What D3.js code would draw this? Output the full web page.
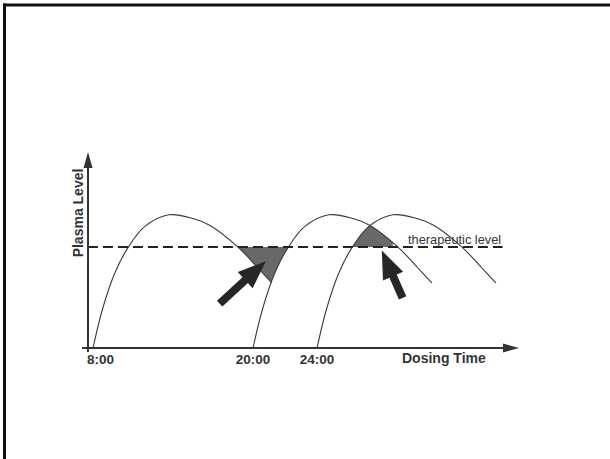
<!DOCTYPE html>
<html>
<head>
<meta charset="utf-8">
<script src="https://cdn.jsdelivr.net/npm/d3@7"></script>
<style>
  html, body { margin: 0; padding: 0; background: #fff; }
  svg { display: block; }
</style>
</head>
<body>
<div id="chart"></div>
<script>
// Dosing schedule vs plasma level (schematic)
var doseTimes = [8, 20, 24];
var doseLabels = ['8:00', '20:00', '24:00'];

// one dose profile: hours after the dose -> plasma level
var profileHours = [0, 0.75, 1.65, 2.63, 3.9, 5.7, 7.45, 8.8, 10.9, 12.2, 13.45];
var profileLevels = [0, 21, 39, 52, 63, 69, 67.2, 63.5, 52.3, 43, 33.7];

var therapeuticLevel = 52.3;
var therapeuticSpan = [7.62, 35.6];

// annotation arrows [time, level]
var arrowTails = [[17.5, 23], [29.35, 26]];
var arrowTips = [[20.8, 45], [28.05, 50.5]];

(function() {
  'use strict';

  var width = 610, height = 459;
  var originX = 88, originY = 348;

  var svg = d3.select('#chart').append('svg').attr('width', width).attr('height', height);

  var xTime = d3.scaleLinear().domain([8, 20, 24]).range([93, 253, 317]);
  var xDur = d3.scaleLinear().domain([0, 1]).range([0, 13.3]);
  var y = d3.scaleLinear().domain([0, 100]).range([originY, 155]);

  // frame (top + left)
  svg.append('line').attr('x1', 3).attr('x2', width).attr('y1', 5).attr('y2', 5)
    .attr('stroke', '#111').attr('stroke-width', 3);
  svg.append('line').attr('x1', 4.5).attr('x2', 4.5).attr('y1', 3.5).attr('y2', height)
    .attr('stroke', '#111').attr('stroke-width', 3);

  var line = d3.line()
    .x(function(d) { return d[0]; }).y(function(d) { return d[1]; })
    .curve(d3.curveCatmullRom.alpha(0.5));

  var curves = doseTimes.map(function(t) {
    return profileHours.map(function(h, i) {
      return [xTime(t) + xDur(h), y(profileLevels[i])];
    });
  });

  var paths = svg.selectAll('.dose').data(curves).enter().append('path')
    .attr('class', 'dose')
    .attr('d', line)
    .attr('fill', 'none').attr('stroke', '#3a3a3a').attr('stroke-width', 1.1);

  // sample each drawn curve so we can read y at any x
  function sampler(node) {
    var L = node.getTotalLength(), pts = [];
    for (var s = 0; s <= L; s += 0.5) pts.push(node.getPointAtLength(s));
    pts.push(node.getPointAtLength(L));
    return function(x) {
      if (x < pts[0].x || x > pts[pts.length - 1].x) return null;
      for (var i = 1; i < pts.length; i++) {
        if (pts[i].x >= x) {
          var a = pts[i - 1], b = pts[i];
          var k = b.x === a.x ? 0 : (x - a.x) / (b.x - a.x);
          return a.y + k * (b.y - a.y);
        }
      }
      return null;
    };
  }
  var samp = paths.nodes().map(sampler);
  var thrY = y(therapeuticLevel);
  var peakH = profileHours[profileLevels.indexOf(d3.max(profileLevels))];

  // gap below therapeutic level between dose 1 and dose 2
  var gap = [];
  for (var x = xTime(doseTimes[0]) + xDur(peakH); x <= xTime(doseTimes[1]) + xDur(peakH); x += 0.5) {
    var a = samp[0](x), b = samp[1](x);
    var bottom = Math.min(a == null ? Infinity : a, b == null ? Infinity : b);
    if (bottom > thrY && bottom !== Infinity) gap.push([x, bottom]);
  }
  // overlap above therapeutic level between dose 2 and dose 3
  var over = [];
  for (var x2 = xTime(doseTimes[1]) + xDur(peakH); x2 <= xTime(doseTimes[2]) + xDur(peakH); x2 += 0.5) {
    var c = samp[1](x2), d = samp[2](x2);
    if (c == null || d == null) continue;
    var top = Math.max(c, d);
    if (top < thrY) over.push([x2, top]);
  }
  [gap, over].forEach(function(pts) {
    if (!pts.length) return;
    var poly = [[pts[0][0], thrY]].concat(pts, [[pts[pts.length - 1][0], thrY]]);
    svg.insert('path', '.dose').attr('d', 'M' + poly.join('L') + 'Z')
      .attr('fill', '#686868');
  });

  // therapeutic level
  svg.append('line')
    .attr('x1', xTime(therapeuticSpan[0])).attr('x2', xTime(therapeuticSpan[1]))
    .attr('y1', thrY).attr('y2', thrY)
    .attr('stroke', '#222').attr('stroke-width', 2).attr('stroke-dasharray', '10,5');
  svg.append('text').attr('x', 408).attr('y', thrY - 3)
    .attr('font-family', 'Liberation Sans, Arial, sans-serif').attr('font-size', 12.8)
    .attr('fill', '#333').text('therapeutic level');

  // axes
  var axisCol = '#333';
  svg.append('line').attr('x1', originX - 6).attr('x2', 505).attr('y1', originY).attr('y2', originY)
    .attr('stroke', axisCol).attr('stroke-width', 2);
  svg.append('path').attr('d', 'M503,' + (originY - 4.5) + 'L519,' + originY + 'L503,' + (originY + 4.5) + 'Z')
    .attr('fill', axisCol);
  svg.append('line').attr('x1', originX).attr('x2', originX).attr('y1', originY + 4).attr('y2', 166)
    .attr('stroke', axisCol).attr('stroke-width', 2);
  svg.append('path').attr('d', 'M' + (originX - 4.5) + ',168L' + originX + ',152L' + (originX + 4.5) + ',168Z')
    .attr('fill', axisCol);

  var font = 'Liberation Sans, Arial, sans-serif';
  svg.selectAll('.tick').data(doseTimes).enter().append('text')
    .attr('class', 'tick')
    .attr('x', function(d, i) { return i === 0 ? originX - 1 : xTime(d); })
    .attr('y', 364)
    .attr('text-anchor', function(d, i) { return i === 0 ? 'start' : 'middle'; })
    .attr('font-family', font).attr('font-weight', 'bold').attr('font-size', 13.5)
    .attr('fill', '#333')
    .text(function(d, i) { return doseLabels[i]; });

  svg.append('text').attr('x', 402).attr('y', 363)
    .attr('font-family', font).attr('font-weight', 'bold').attr('font-size', 14)
    .attr('fill', '#333').text('Dosing Time');

  svg.append('text').attr('transform', 'translate(83,213) rotate(-90)')
    .attr('text-anchor', 'middle')
    .attr('font-family', font).attr('font-weight', 'bold').attr('font-size', 14)
    .attr('fill', '#333').text('Plasma Level');

  // block arrows
  function blockArrow(tail, tip) {
    var x0 = xTime(tail[0]), y0 = y(tail[1]), x1 = xTime(tip[0]), y1 = y(tip[1]);
    var len = Math.hypot(x1 - x0, y1 - y0), ang = Math.atan2(y1 - y0, x1 - x0) * 180 / Math.PI;
    var hl = 28, hw = 11, sw = 4;
    var pts = [[0, -sw], [len - hl, -sw], [len - hl, -hw], [len, 0], [len - hl, hw], [len - hl, sw], [0, sw]];
    svg.append('path').attr('d', 'M' + pts.join('L') + 'Z')
      .attr('transform', 'translate(' + x0 + ',' + y0 + ') rotate(' + ang + ')')
      .attr('fill', '#262626');
  }
  arrowTails.forEach(function(t, i) { blockArrow(t, arrowTips[i]); });
})();
</script>
</body>
</html>
